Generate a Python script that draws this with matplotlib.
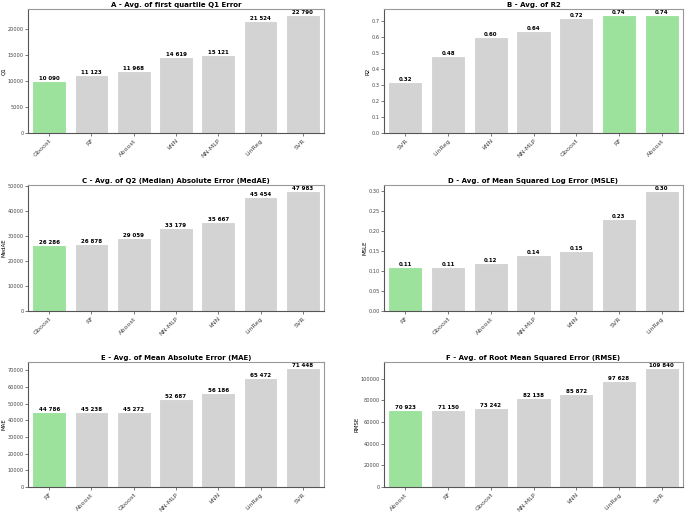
import matplotlib
matplotlib.use('Agg')
import matplotlib.pyplot as plt

# Panel data (models sorted best -> worst as in the reference)
q1_models = ["Gboost", "RF", "Aboost", "kNN", "NN-MLP", "LinReg", "SVR"]
q1_values = [10090, 11123, 11968, 14619, 15121, 21524, 22790]

r2_models = ["SVR", "LinReg", "kNN", "NN-MLP", "Gboost", "RF", "Aboost"]
r2_values = [0.32, 0.48, 0.60, 0.64, 0.72, 0.74, 0.74]

medae_models = ["Gboost", "RF", "Aboost", "NN-MLP", "kNN", "LinReg", "SVR"]
medae_values = [26286, 26878, 29059, 33179, 35667, 45454, 47983]

msle_models = ["RF", "Gboost", "Aboost", "NN-MLP", "kNN", "SVR", "LinReg"]
msle_values = [0.11, 0.11, 0.12, 0.14, 0.15, 0.23, 0.30]

mae_models = ["RF", "Aboost", "Gboost", "NN-MLP", "kNN", "LinReg", "SVR"]
mae_values = [44786, 45238, 45272, 52687, 56186, 65472, 71448]

rmse_models = ["Aboost", "RF", "Gboost", "NN-MLP", "kNN", "LinReg", "SVR"]
rmse_values = [70923, 71150, 73242, 82138, 85872, 97628, 109840]

# best-performing bars highlighted in green
q1_best = ["Gboost"]
r2_best = ["RF", "Aboost"]
medae_best = ["Gboost"]
msle_best = ["RF"]
mae_best = ["RF"]
rmse_best = ["Aboost"]

panels = [
    ("A - Avg. of first quartile Q1 Error", "Q1", q1_models, q1_values, q1_best, "int"),
    ("B - Avg. of R2", "R2", r2_models, r2_values, r2_best, "dec"),
    ("C - Avg. of Q2 (Median) Absolute Error (MedAE)", "MedAE", medae_models, medae_values, medae_best, "int"),
    ("D - Avg. of Mean Squared Log Error (MSLE)", "MSLE", msle_models, msle_values, msle_best, "dec"),
    ("E - Avg. of Mean Absolute Error (MAE)", "MAE", mae_models, mae_values, mae_best, "int"),
    ("F - Avg. of Root Mean Squared Error (RMSE)", "RMSE", rmse_models, rmse_values, rmse_best, "int"),
]

W, H = 685, 512
fig = plt.figure(figsize=(W / 100, H / 100), dpi=100)

# axes boxes in pixels: left, top, right, bottom
lefts = [28, 384]
rights = [324, 683]
tops = [9, 185, 362]
bottoms = [133, 311, 487]

gray = "#d3d3d3"
green = "#9ce29c"

for i, (title, ylabel, models, values, best, fmt) in enumerate(panels):
    r, c = divmod(i, 2)
    l, rt = lefts[c], rights[c]
    t, b = tops[r], bottoms[r]
    ax = fig.add_axes([l / W, 1 - b / H, (rt - l) / W, (b - t) / H])
    colors = [green if m in best else gray for m in models]
    bars = ax.bar(range(len(models)), values, width=0.8, color=colors,
                  edgecolor="white", linewidth=0.8)
    ax.set_xlim(-0.5, len(models) - 0.5)
    ax.set_ylim(0, max(values) * 1.05)
    ax.set_xticks(range(len(models)))
    ax.set_xticklabels(models, rotation=45, ha="right", fontsize=4.6,
                       rotation_mode="anchor")
    ax.tick_params(axis="y", labelsize=3.6, length=2, width=0.5, pad=1.2,
                   colors="#444444")
    ax.tick_params(axis="x", length=2, width=0.5, pad=1.5, colors="#444444")
    ax.set_ylabel(ylabel, fontsize=4, labelpad=0.8)
    ax.set_title(title, fontsize=5, fontweight="bold", pad=1.5)
    for side in ["left", "bottom"]:
        ax.spines[side].set_color("#555555")
        ax.spines[side].set_linewidth(0.8)
    for side in ["top", "right"]:
        ax.spines[side].set_color("#999999")
        ax.spines[side].set_linewidth(0.8)
    for bar, v in zip(bars, values):
        if fmt == "int":
            txt = f"{v:,.0f}".replace(",", " ")
        else:
            txt = f"{v:.2f}"
        ax.text(bar.get_x() + bar.get_width() / 2, bar.get_height(), txt,
                ha="center", va="bottom", fontsize=4, fontweight="bold")

fig.savefig("out.png", dpi=100)
